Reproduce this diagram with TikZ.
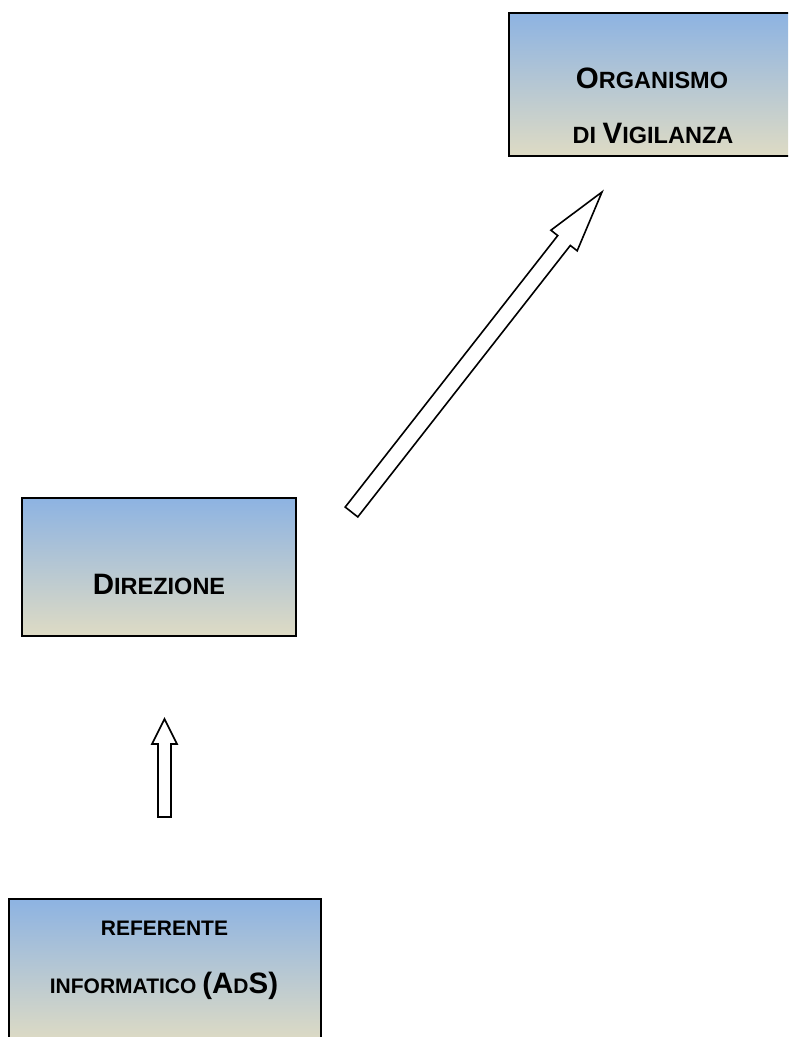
\documentclass[tikz,border=0pt]{standalone}
\usepackage{fontspec}
\setmainfont{Liberation Sans}
\usetikzlibrary{calc}

% faux small caps: large initials, smaller capitals
\newcommand\capbig[1]{{\fontsize{29.5}{29.5}\selectfont #1}}
\newcommand\capsml[1]{{\fontsize{23.5}{23.5}\selectfont #1}}
\newcommand\capsmr[1]{{\fontsize{21}{21}\selectfont #1}}

% hollow block arrow: #1 tail, #2 tip, #3 half shaft width, #4 half head width, #5 head length
\newcommand\hollowarrow[5]{%
  \coordinate (hb) at ($(#2)!#5!(#1)$);
  \draw[blockarrow]
    ($(#1)!#3!90:(#2)$) -- ($(hb)!#3!90:(#2)$) -- ($(hb)!#4!90:(#2)$) -- (#2)
    -- ($(hb)!#4!-90:(#2)$) -- ($(hb)!#3!-90:(#2)$) -- ($(#1)!#3!-90:(#2)$) -- cycle;
}

\begin{document}
\begin{tikzpicture}[x=1pt,y=-1pt,
  unitbox/.style={draw=black, line width=1.3pt, rectangle, inner sep=0pt,
    top color={rgb,255:red,141;green,179;blue,226},
    bottom color={rgb,255:red,222;green,219;blue,196}},
  label/.style={font=\bfseries, anchor=base, inner sep=0pt},
  blockarrow/.style={draw=black, fill=white, line width=1.6pt, line join=miter}]

\path[use as bounding box] (0,0) rectangle (788,1037);
\clip (0,0) rectangle (788,1037);
\fill[white] (0,0) rectangle (788,1037);

% units
\node[unitbox, minimum width=287pt, minimum height=143pt] (odv) at (652.5,84.5) {};
\node[unitbox, minimum width=274pt, minimum height=138pt] (dir) at (159,567) {};
\node[unitbox, minimum width=312pt, minimum height=143pt] (ref) at (165,970.5) {};

% unit names
\node[label] (odv1) at (652,88) {\capbig{O}\capsml{RGANISMO}};
\node[label] (odv2) at (653,143) {\capsml{DI }\capbig{V}\capsml{IGILANZA}};
\node[label] (dir1) at (159,594) {\capbig{D}\capsml{IREZIONE}};
\node[label] (ref1) at (164.5,935) {\capsmr{REFERENTE}};
\node[label] (ref2) at (164,993) {\capsmr{INFORMATICO }\capbig{(A}\capsmr{D}\capbig{S)}};

% reporting lines
\coordinate (a1tail) at (351.5,512);
\coordinate (a1tip) at (602,192);
\hollowarrow{a1tail}{a1tip}{8pt}{16.7pt}{61.6pt}

\coordinate (a2tail) at (164.5,817);
\coordinate (a2tip) at (164.5,719);
\hollowarrow{a2tail}{a2tip}{6.5pt}{12.5pt}{25pt}
\end{tikzpicture}
\end{document}
